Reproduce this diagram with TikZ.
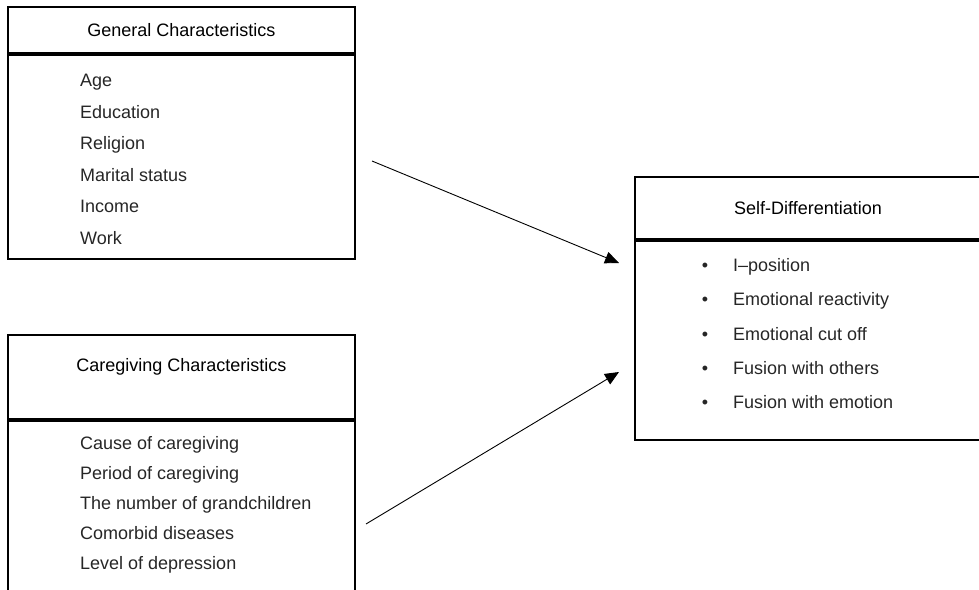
\documentclass[tikz,border=0pt]{standalone}
\usepackage{fontspec}
\setmainfont{Liberation Sans}
\usetikzlibrary{arrows.meta, positioning}

\begin{document}
\begin{tikzpicture}[x=1pt, y=-1pt,
  every node/.style={font=\fontsize{18}{22}\selectfont},
  box/.style={draw, line width=1.8pt, minimum width=347pt, inner sep=0pt},
  itemtext/.style={anchor=base west, inner sep=0pt, text=black!85},
  link/.style={-{Triangle[length=14pt, width=12pt]}, line width=0.9pt}]
  \useasboundingbox (0,0) rectangle (979,589);
  \clip (0,0) rectangle (979,589);

  % General characteristics
  \node[box, minimum height=46pt] (genhd) at (181.5,30) {General Characteristics};
  \node[box, minimum height=204pt, below=0pt of genhd] (genbody) {};
  \foreach \txt [count=\i] in {Age, Education, Religion, Marital status, Income, Work}
    \node[itemtext] (gen\i) at (80, 55+31.5*\i) {\txt};

  % Caregiving characteristics
  \node[box, minimum height=84pt] (carehd) at (181.5,377) {};
  \node (caretitle) at (181.5,367) {Caregiving Characteristics};
  \node[box, minimum height=200pt, below=0pt of carehd] (carebody) {};
  \foreach \txt [count=\i] in {Cause of caregiving, Period of caregiving, The number of grandchildren, Comorbid diseases, Level of depression}
    \node[itemtext] (care\i) at (80, 419.5+30*\i) {\txt};

  % Self-differentiation
  \node[box, minimum width=346pt, minimum height=62pt] (selfhd) at (808,208) {Self-Differentiation};
  \node[box, minimum width=346pt, minimum height=199pt, below=0pt of selfhd] (selfbody) {};
  \foreach \txt [count=\i] in {I--position, Emotional reactivity, Emotional cut off, Fusion with others, Fusion with emotion} {
    \node[anchor=base, inner sep=0pt, text=black!85] (bul\i) at (705, 237.25+34.25*\i) {\textbullet};
    \node[itemtext] (self\i) at (733, 237.25+34.25*\i) {\txt};
  }

  % Paths
  \coordinate (genout) at (372,161);
  \coordinate (selfin) at (619,263);
  \coordinate (careout) at (366,524);
  \coordinate (selfin2) at (619,372);
  \draw[link] (genout) -- (selfin);
  \draw[link] (careout) -- (selfin2);
\end{tikzpicture}
\end{document}
